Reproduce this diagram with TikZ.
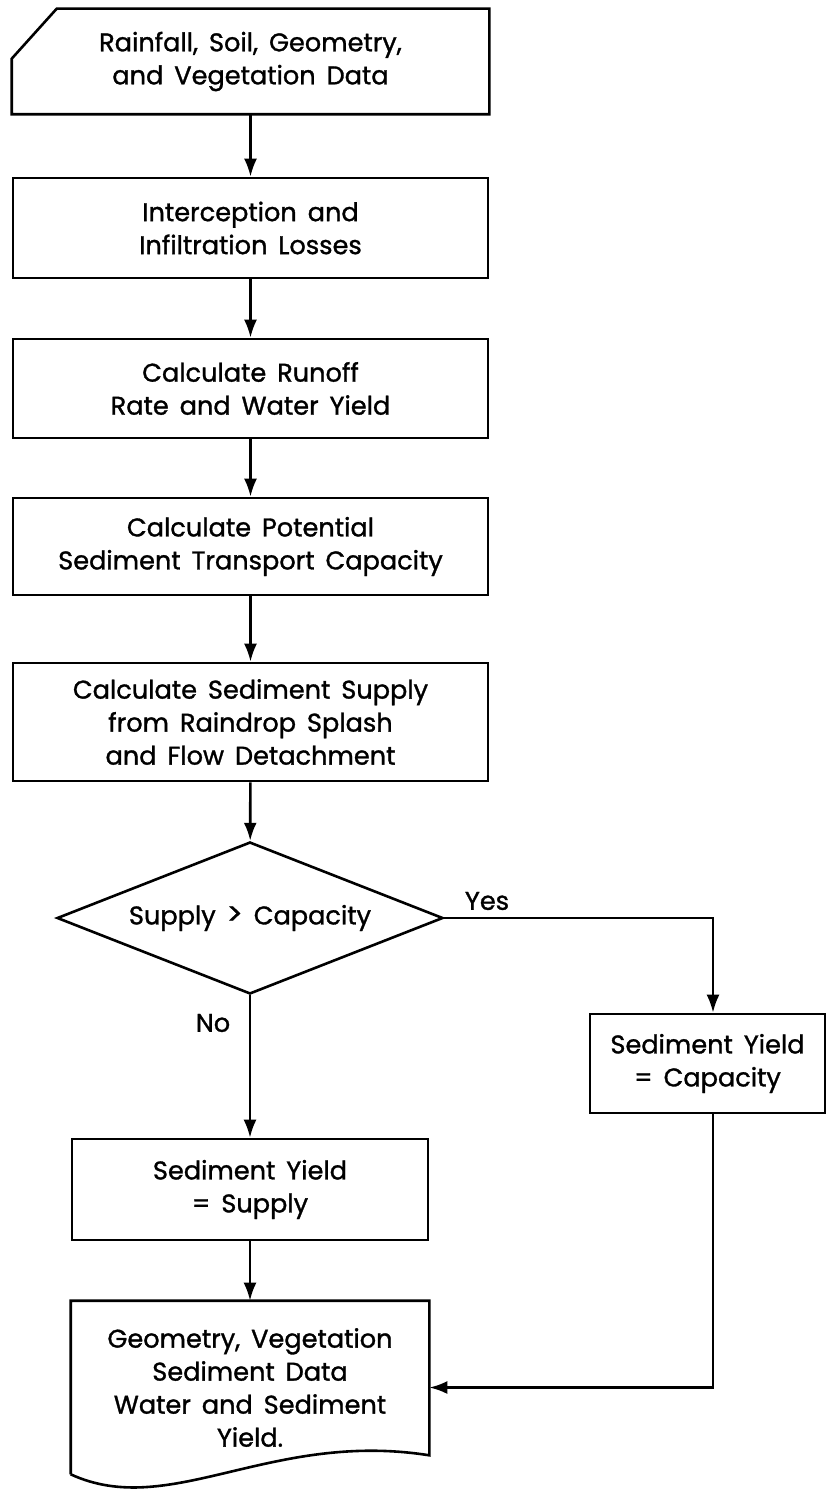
\documentclass[tikz,border=0pt]{standalone}
\usepackage{fontspec}
\setmainfont{Poppins}[WordSpace=1.6,FakeBold=1.2]
\usetikzlibrary{arrows.meta,shapes.geometric,calc}

\begin{document}
\begin{tikzpicture}[
		x=0.5pt, y=-0.5pt,
		line width=1.3pt,
		>={Latex[length=9pt,width=6.5pt]},
		font=\fontsize{12.8}{16.5}\selectfont,
		proc/.style={rectangle,draw,inner sep=0pt,align=center,minimum width=237.5pt},
		io/.style={rectangle,inner sep=0pt,align=center},
		test/.style={diamond,draw,inner sep=0pt,aspect=2.5,minimum width=193pt,minimum height=76pt}]
	%% page
	\useasboundingbox (0,0) rectangle (827,1492);
	%% input card
	\node (data) at (250.5,61.5) [io,minimum width=237.5pt,minimum height=51.5pt] {Rainfall, Soil, Geometry,\\and Vegetation Data};
	\draw ($(data.north west)+(0,50)$) -- ($(data.north west)+(45,0)$) -- (data.north east)
		-- (data.south east) -- (data.south west) -- cycle;
	%% process chain
	\node (losses) at (250.5,228) [proc,minimum height=50pt] {Interception and\\Infiltration Losses};
	\node (runoff) at (250.5,388.5) [proc,minimum height=49.5pt] {Calculate Runoff\\Rate and Water Yield};
	\node (capacity) at (250.5,546.5) [proc,minimum height=48.5pt] {Calculate Potential\\Sediment Transport Capacity};
	\node (supply) at (250.5,722) [proc,minimum height=59pt] {Calculate Sediment Supply\\from Raindrop Splash\\and Flow Detachment};
	\draw[->] (data) -- (losses);
	\draw[->] (losses) -- (runoff);
	\draw[->] (runoff) -- (capacity);
	\draw[->] (capacity) -- (supply);
	%% decision
	\node (test) at (250,918) [test] {Supply {\fontsize{15}{16.5}\selectfont>} Capacity};
	\draw[->] (supply) -- (test);
	\coordinate (turn) at (713,918);
	\node (yes) at (487,901) {Yes};
	\node (no) at (213,1023) {No};
	%% both branches
	\node (yieldcap) at (707.5,1063.5) [proc,minimum width=117.5pt,minimum height=49.5pt] {Sediment Yield\\= Capacity};
	\node (yieldsup) at (250,1189.5) [proc,minimum width=178pt,minimum height=50.5pt] {Sediment Yield\\= Supply};
	\draw[->] (test.east) -- (turn) -- (turn |- yieldcap.north);
	\draw[->] (test) -- (yieldsup);
	%% output document
	\node (output) at (250,1387.5) [io,minimum width=178pt,minimum height=85.5pt] {Geometry, Vegetation\\Sediment Data\\Water and Sediment\\Yield.};
	\draw (output.south west) -- (output.north west) -- (output.north east)
		-- ($(output.south east)+(0,-19)$) .. controls (270,1430) and (170,1520) .. (output.south west);
	\draw[->] (yieldsup) -- (output);
	\draw[->] (turn |- yieldcap.south) |- (output.east);
\end{tikzpicture}
\end{document}
